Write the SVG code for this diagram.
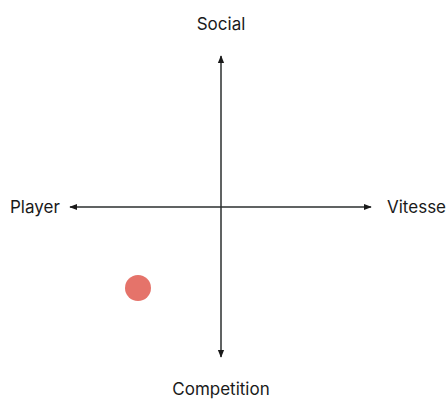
<svg xmlns="http://www.w3.org/2000/svg" width="447" height="399" viewBox="0 0 447 399">
<style>
.lbl{font-family:Inter,"Liberation Sans",sans-serif;font-size:17px;fill:#1a1a1a}
.ax{stroke:#2b2f2f;stroke-width:1.5;fill:none}
</style>
<defs>
<marker id="ah" viewBox="0 0 10 10" refX="9" refY="5" markerWidth="8" markerHeight="8" markerUnits="userSpaceOnUse" orient="auto">
<path d="M0,1 L10,5 L0,9 Z" fill="#1a1a1a"/>
</marker>
</defs>
<rect width="447" height="399" fill="#fff"/>
<g id="connectors">
<line class="ax" x1="221" y1="207" x2="221" y2="56" marker-end="url(#ah)"/>
<line class="ax" x1="221" y1="207" x2="221" y2="357" marker-end="url(#ah)"/>
<line class="ax" x1="221" y1="207" x2="70" y2="207" marker-end="url(#ah)"/>
<line class="ax" x1="221" y1="207" x2="371" y2="207" marker-end="url(#ah)"/>
</g>
<g id="social"><text class="lbl" x="221" y="30" text-anchor="middle">Social</text></g>
<g id="player"><text class="lbl" x="10" y="213">Player</text></g>
<g id="vitesse"><text class="lbl" x="387" y="213">Vitesse</text></g>
<g id="competition"><text class="lbl" x="221" y="395" text-anchor="middle">Competition</text></g>
<g id="point"><circle cx="138" cy="288" r="13" fill="#e5736a"/></g>
</svg>
